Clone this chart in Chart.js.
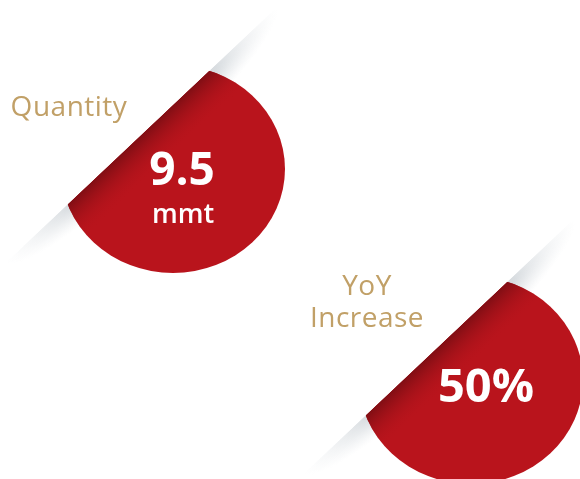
<!DOCTYPE html>
<html>
<head>
<meta charset="utf-8">
<script src="https://cdn.jsdelivr.net/npm/chart.js@4/dist/chart.umd.min.js"></script>
<style>
  html, body { margin: 0; padding: 0; background: #ffffff; }
  #wrap { position: relative; width: 580px; height: 479px; }
</style>
</head>
<body>
<div id="wrap"><canvas id="c"></canvas></div>
<script>
// ---- data ----
const categories = [["Quantity"], ["YoY", "Increase"]];
const valueTexts = ["9.5", "50%"];
const unitTexts = ["mmt", ""];
const values = [9.5, 50];

// ---- styles ----
const RED = '#b9141c';
const DARK_RED = 'rgba(128,14,20,1)';
const GOLD = '#c1a067';
const RX = 112, RY = 104;
const THETA = Math.atan2(-133, 141);
const D = 46.6;          // distance from centre to chord
const SHADOW_HALF = 185; // half length of the shadow along the chord
const SHADOW_W = 30;

function drawBadge(ctx, cx, cy, i) {
  ctx.save();
  ctx.translate(cx, cy);

  // shadow band along the chord line
  ctx.save();
  ctx.rotate(THETA);
  ctx.beginPath(); ctx.rect(-400, -D, 800, 300); ctx.clip();
  ctx.translate(0, -D);
  ctx.scale(1, SHADOW_W / SHADOW_HALF);
  const g = ctx.createRadialGradient(0, 0, 0, 0, 0, SHADOW_HALF);
  g.addColorStop(0, 'rgba(188,194,200,0.95)');
  g.addColorStop(0.55, 'rgba(200,206,211,0.7)');
  g.addColorStop(1, 'rgba(230,233,236,0)');
  ctx.fillStyle = g;
  ctx.fillRect(-SHADOW_HALF, 0, SHADOW_HALF * 2, SHADOW_HALF);
  ctx.restore();

  // red segment
  ctx.save();
  ctx.beginPath(); ctx.ellipse(0, 0, RX, RY, 0, 0, Math.PI * 2); ctx.clip();
  ctx.rotate(THETA);
  ctx.beginPath(); ctx.rect(-300, -D, 600, 400); ctx.clip();
  ctx.fillStyle = RED; ctx.fillRect(-300, -D, 600, 400);
  const g2 = ctx.createLinearGradient(0, -D, 0, -D + 36);
  g2.addColorStop(0, DARK_RED);
  g2.addColorStop(1, 'rgba(185,20,28,0)');
  ctx.fillStyle = g2; ctx.fillRect(-300, -D, 600, 36);
  ctx.restore();

  // category label
  ctx.textAlign = 'center';
  ctx.textBaseline = 'alphabetic';
  ctx.fillStyle = GOLD;
  ctx.font = '400 28px "Open Sans", "Lato", sans-serif';
  if ('letterSpacing' in ctx) ctx.letterSpacing = '0.5px';
  const lines = categories[i];
  lines.forEach((ln, k) => {
    ctx.fillText(ln, -104, -53 - (lines.length - 1 - k) * 32);
  });
  if ('letterSpacing' in ctx) ctx.letterSpacing = '0px';

  // value + unit
  ctx.fillStyle = '#ffffff';
  if (unitTexts[i]) {
    ctx.font = 'bold 46px "Open Sans", "Liberation Sans", sans-serif';
    ctx.fillText(valueTexts[i], 9, 16);
    ctx.font = '600 27px "Open Sans", "Liberation Sans", sans-serif';
    ctx.fillText(unitTexts[i], 10, 54);
  } else {
    ctx.font = 'bold 47px "Open Sans", "Liberation Sans", sans-serif';
    ctx.fillText(valueTexts[i], 15, 22);
  }
  ctx.restore();
}

const badgePlugin = {
  id: 'badges',
  beforeDatasetsDraw(chart) {
    const meta = chart.getDatasetMeta(0);
    meta.data.forEach((pt, i) => drawBadge(chart.ctx, pt.x, pt.y, i));
  }
};

const chart = new Chart(document.getElementById('c'), {
  type: 'scatter',
  data: {
    labels: categories,
    datasets: [{
      data: values.map((v, i) => ({ x: i, y: i, v })),
      pointRadius: 0,
      pointHoverRadius: 0
    }]
  },
  options: {
    responsive: true,
    maintainAspectRatio: false,
    animation: false,
    events: [],
    layout: { padding: 0 },
    plugins: { legend: { display: false }, tooltip: { enabled: false } },
    scales: {
      x: { type: 'linear', min: -0.5805, max: 1.3658, display: false },
      y: { type: 'linear', min: -0.8009, max: 1.4692, reverse: true, display: false }
    }
  },
  plugins: [badgePlugin]
});
if (document.fonts && document.fonts.ready) document.fonts.ready.then(() => chart.draw());
</script>
</body>
</html>
